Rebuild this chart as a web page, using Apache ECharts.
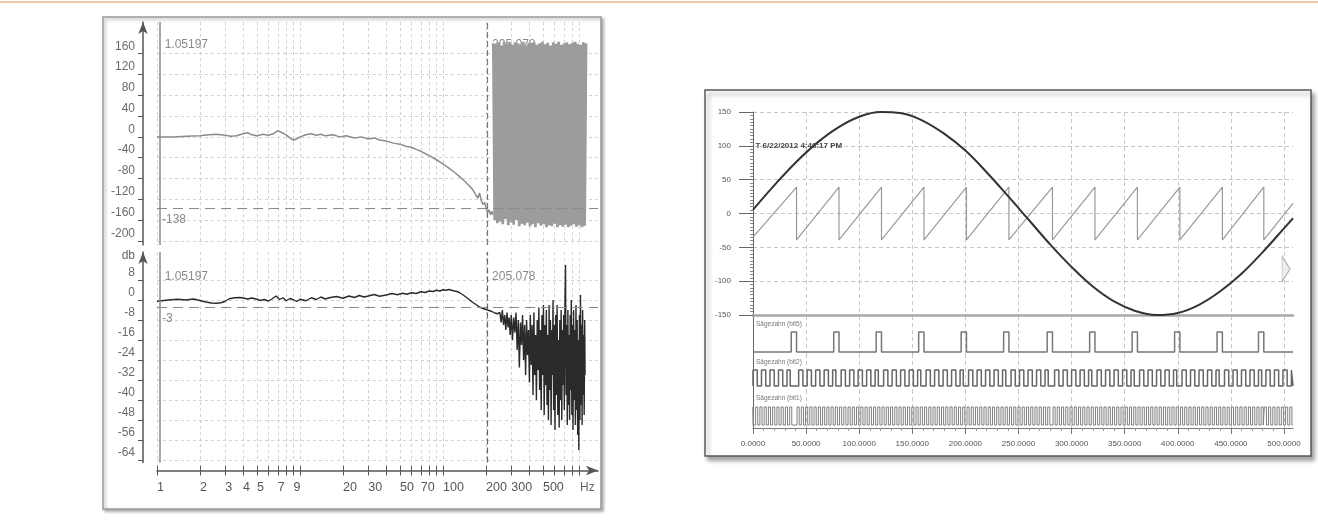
<!DOCTYPE html>
<html><head><meta charset="utf-8">
<script src="https://cdn.jsdelivr.net/npm/echarts@6/dist/echarts.min.js"></script>
<style>html,body{margin:0;padding:0;background:#fff}#c{width:1318px;height:520px}</style>
</head><body><div id="c"></div>
<script>
// ================= LEFT CHART: frequency response (log frequency axis) =================
const fTicks  = [1,2,3,4,5,6,7,8,9,10,20,30,40,50,60,70,80,90,100,200,300,400,500,600,700,800,900];
const fLabels = [1,2,3,4,5,7,9,20,30,50,70,100,200,300,500];
const fAxisMax = 1213;
const topTicks = [-200,-160,-120,-80,-40,0,40,80,120,160];
const botTicks = [-64,-56,-48,-40,-32,-24,-16,-8,0,8];
const cursorA = 1.05197;
const cursorB = 205.078;
const topRef = -138;
const botRef = -3;

// upper panel: gray transfer curve
const topF  = [1,1.3,1.6,2,2.3,2.6,3,3.3,3.6,4,4.3,4.6,5,5.5,6,6.5,7,7.5,8,8.5,9,9.5,10,11,12,13,14,15,17,19,21,24,27,30,33,36,40,45,50,55,60,65,70,75,80,90,100,110,120,130,140,150,160,170,175,180,185,190,195,200,205,210,215,220,225];
const topDb = [0,0,1,2,4,5,3,1,2,6,8,4,2,5,3,6,12,8,4,-2,-6,-4,0,4,6,3,5,2,4,0,2,-2,0,-4,-2,-6,-8,-12,-14,-18,-20,-24,-28,-32,-36,-44,-52,-60,-68,-76,-84,-92,-100,-112,-118,-108,-122,-130,-126,-136,-146,-140,-150,-143,-150];
// upper panel: dense noise block above ~225 Hz
const topNoiseF  = [225,230,235,240,245,251,256,262,268,274,280,286,292,299,305,312,319,326,333,341,348,356,364,372,380,389,397,406,415,424,434,443,453,463,474,484,495,506,517,529,540,552,565,577,590,603,617,630,644,659,673,688,704,719,735,752,768,785,803,821,839,857,876,896,916,936,957,978,1000];
const topNoiseDb = [180,-160,178,-166,182,-163,176,-168,183,-158,179,-170,181,-164,177,-169,182,-160,180,-172,178,-167,183,-170,176,-165,181,-172,179,-168,182,-174,177,-166,180,-171,183,-168,178,-174,181,-170,176,-172,182,-167,179,-174,183,-170,177,-173,180,-169,182,-174,178,-171,181,-168,183,-173,179,-170,177,-174,182,-171,180];
// lower panel: dark curve (smooth part + noisy tail)
const botF  = [1,1.2,1.4,1.6,1.8,2,2.2,2.4,2.6,2.8,3,3.2,3.5,3.8,4,4.3,4.6,5,5.3,5.6,6,6.4,6.8,7.2,7.6,8,8.5,9,9.5,10,11,12,13,14,15,16,18,20,22,24,26,28,30,33,36,40,44,48,52,56,60,65,70,75,80,85,90,95,100,105,110,115,120,125,130,140,150,160,170,180,190,200,210,220,230,240,
  250,255,260,265,270,275,280,285,290,295,300,306,312,318,324,330,336,342,348,354,360,366,372,378,384,390,396,402,408,414,420,426,432,438,444,450,456,462,468,474,480,486,492,498,504,510,516,522,528,534,540,546,552,558,564,570,576,582,588,594,600,607,614,621,628,635,642,649,656,663,670,677,684,691,698,705,712,719,726,733,740,747,754,761,768,775,782,789,796,803,811,819,827,835,843,851,859,867,875,883,891,899,907,915,923,931,939,947,955,963,971,979,985];
const botDb = [-0.5,0,0.3,0,0.4,-0.2,-0.8,-1.2,-1.3,-1.1,-0.5,0.5,0.9,1,0.8,0.4,0.8,0.3,-0.2,0.2,-0.4,0.5,1.6,0.2,0.9,-0.3,0.6,0.1,-0.6,0.3,-0.3,0.9,0.2,1.2,0.4,0.9,1.4,0.7,1.6,1,1.8,1.2,1.6,2.2,1.5,2,2.6,2.1,2.7,2.3,2.9,2.6,3.3,3,3.6,3.4,3.9,3.6,4.1,3.9,4.2,3.9,3.6,3.4,3,1.8,0.5,-0.8,-1.8,-2.8,-3.4,-3.8,-4.2,-4.6,-5.2,-5.5,
  -5,-9,-4,-10,-6,-12,-5,-11,-7,-14,-6,-16,-7,-13,-5,-20,-8,-27,-9,-18,-6,-24,-10,-30,-8,-22,-12,-33,-6,-26,-10,-38,-5,-30,-14,-40,-8,-28,-3,-36,-12,-44,-6,-30,-2,-46,-10,-34,-4,-42,-14,-48,-2,-36,-8,-50,-12,-30,0,-44,-10,-52,-6,-38,-2,-46,-16,-51,-8,-40,-4,-48,-12,-34,-6,-44,-2,14,-38,-10,-50,-4,-42,-14,-48,-6,-36,0,-46,-10,-52,-4,-40,-12,-50,-2,-44,-8,-54,-16,-60,-6,-48,2,-42,-10,-50,-4,-38,-14,-46,-8,-30];

// ================= RIGHT CHART: scope traces =================
const tXTicks = [0,50,100,150,200,250,300,350,400,450,500];
const tXMax = 508.5;
const sineX = [0,20,40,60,80,100,120,140,160,180,200,220,240,260,280,300,320,340,360,380,400,420,440,460,480,500,508.5];
const sineY = [5.5,41.5,75,104,127,143,150,148,137,118,93,61,26,-10,-46,-79,-108,-130,-144,-150,-147,-135,-115,-89,-57,-22,-7];
const sawDrops = [41,81,121,161,201,241,282,322,362,402,442,481];
const sawStart = -35, sawTop = 39, sawBottom = -39, sawEnd = 15;
const bit5Rise = [36,76,116,156,196,236,277,317,357,397,437,476];
const bit5Fall = [41,81,121,161,201,241,282,322,362,402,442,481];
const bitPeriodStarts = [-2,41,81,121,161,201,241,282,322,362,402,442,481];
const bit2Pattern = [[2,6],[10,14],[18,22],[26,30],[34,37]];
const bit1Pattern = [[0.5,2.5],[4.5,6.5],[8.5,10.5],[12.5,14.5],[16.5,18.5],[20.5,22.5],[24.5,26.5],[28.5,30.5],[32.5,34.5],[36.5,38.5]];
const timeStamp = 'T 6/22/2012 4:46:17 PM';
const bitNames = ['Sägezahn (bit5)','Sägezahn (bit2)','Sägezahn (bit1)'];

// ---------- helpers ----------
const lg = v => Math.log10(v);
const zip = (xs, ys, fx) => xs.slice(0, Math.min(xs.length, ys.length)).map((x, i) => [fx ? fx(x) : x, ys[i]]);
const FONT = 'Liberation Sans, Arial, sans-serif';

const sawData = [[0, sawStart]];
sawDrops.forEach(d => { sawData.push([d, sawTop], [d, sawBottom]); });
sawData.push([tXMax, sawEnd]);

function digital(intervals) {
  const pts = [[0, 0]];
  intervals.forEach(([a, b]) => {
    a = Math.max(0, a); b = Math.min(tXMax, b);
    if (b <= a) return;
    pts.push([a, 0], [a, 1], [b, 1], [b, 0]);
  });
  pts.push([tXMax, 0]);
  return pts;
}
const tile = pat => bitPeriodStarts.flatMap(s => pat.map(([a, b]) => [s + a, s + b]));
const bit5Data = digital(bit5Rise.map((r, i) => [r, bit5Fall[i]]));
const bit2Data = digital(tile(bit2Pattern));
const bit1Data = digital(tile(bit1Pattern));

const gridLineL = { show: true, lineStyle: { color: '#d2d2d2', type: [3, 3], width: 1 } };
const gridLineR = { show: true, lineStyle: { color: '#c6c6c6', type: [4, 3], width: 1 } };
const axisDark = { color: '#555', width: 1.5 };

const fTickVals = fTicks.map(lg);
const fLabelVals = fLabels.map(lg);

function leftY(gi, min, max, ticks, extra) {
  return Object.assign({
    gridIndex: gi, type: 'value', min, max, offset: 14,
    axisLine: { show: true, onZero: false, symbol: ['none', 'arrow'], symbolSize: [7, 12], lineStyle: axisDark },
    axisTick: { show: true, customValues: ticks, length: 5, lineStyle: { color: '#555' } },
    axisLabel: { customValues: ticks, color: '#6a6a6a', fontSize: 12, fontFamily: FONT, margin: 8, verticalAlign: 'bottom', lineHeight: 15 },
    splitLine: gridLineL
  }, extra || {});
}

const rX = (gi, extra) => Object.assign({
  gridIndex: gi, type: 'value', min: 0, max: tXMax, interval: 50,
  axisLine: { show: false, onZero: false }, axisTick: { show: false, customValues: tXTicks },
  axisLabel: { show: false, customValues: tXTicks }, splitLine: gridLineR
}, extra || {});

const rBitY = (gi, min, max, name) => ({
  gridIndex: gi, type: 'value', min, max,
  axisLine: { show: true, onZero: false, lineStyle: { color: '#666', width: 1 } },
  axisTick: { show: false }, axisLabel: { show: false }, splitLine: { show: false },
  name, nameLocation: 'end', nameGap: -8,
  nameTextStyle: { align: 'left', verticalAlign: 'middle', fontSize: 6.5, color: '#777', fontFamily: FONT, padding: [0, 0, 0, 3] }
});

const markLbl = { show: true, position: 'right', distance: 4, color: '#8a8a8a', fontSize: 12, fontFamily: FONT };

const option = {
  animation: false,
  backgroundColor: '#fff',
  textStyle: { fontFamily: FONT },
  graphic: [
    { type: 'line', shape: { x1: 0, y1: 2, x2: 1318, y2: 2 }, style: { stroke: '#f2c9a8', lineWidth: 2 }, z: -10 },
    { type: 'rect', shape: { x: 103, y: 17, width: 498, height: 492 }, z: -10,
      style: { fill: '#fff', stroke: '#9a9a9a', lineWidth: 1.5, shadowBlur: 3, shadowOffsetX: 2, shadowOffsetY: 2, shadowColor: 'rgba(0,0,0,0.3)' } },
    { type: 'rect', shape: { x: 705, y: 90, width: 606, height: 366 }, z: -10,
      style: { fill: '#fff', stroke: '#5a5a5a', lineWidth: 1.5, shadowBlur: 4, shadowOffsetX: 3, shadowOffsetY: 4, shadowColor: 'rgba(0,0,0,0.35)' } }
  ],
  grid: [
    { left: 157, top: 22, width: 441, height: 223 },
    { left: 157, top: 252, width: 441, height: 210.5 },
    { left: 753, top: 112, width: 540, height: 203 },
    { left: 753, top: 316, width: 540, height: 38 },
    { left: 753, top: 354, width: 540, height: 36 },
    { left: 753, top: 390, width: 540, height: 38 }
  ],
  xAxis: [
    { gridIndex: 0, type: 'value', min: 0, max: lg(fAxisMax),
      axisLine: { show: false, onZero: false }, axisTick: { show: false, customValues: fTickVals },
      axisLabel: { show: false, customValues: fLabelVals }, splitLine: gridLineL },
    { gridIndex: 1, type: 'value', min: 0, max: lg(fAxisMax), position: 'bottom', offset: 8,
      axisLine: { show: true, onZero: false, symbol: ['none', 'arrow'], symbolSize: [7, 12], lineStyle: axisDark },
      axisTick: { show: true, customValues: fTickVals, length: 5, lineStyle: { color: '#555' } },
      axisLabel: { show: true, customValues: fLabelVals, formatter: v => String(Math.round(Math.pow(10, v))),
        align: 'left', margin: 11, color: '#555', fontSize: 12.5, fontFamily: FONT },
      splitLine: gridLineL,
      name: 'Hz', nameLocation: 'end', nameGap: -18,
      nameTextStyle: { color: '#666', fontSize: 12, fontFamily: FONT, verticalAlign: 'top', padding: [11, 0, 0, 0] } },
    { gridIndex: 1, type: 'value', min: 0, max: lg(fAxisMax), position: 'bottom', offset: 8,
      axisLine: { show: false, onZero: false }, axisTick: { show: true, inside: true, customValues: fTickVals, length: 5, lineStyle: { color: '#555' } },
      axisLabel: { show: false }, splitLine: { show: false } },
    rX(2, { axisLine: { show: true, onZero: false, lineStyle: { color: '#a8a8a8', width: 2.5 } } }),
    rX(3), rX(4),
    rX(5, {
      axisLine: { show: true, onZero: false, lineStyle: { color: '#777', width: 1 } },
      axisTick: { show: true, customValues: tXTicks, length: 6, lineStyle: { color: '#777' } },
      minorTick: { show: true, splitNumber: 5, length: 3, lineStyle: { color: '#999' } },
      axisLabel: { show: true, customValues: tXTicks, formatter: v => v.toFixed(4), fontSize: 8, color: '#555', margin: 12, fontFamily: FONT }
    })
  ],
  yAxis: [
    leftY(0, -208, 221, topTicks),
    leftY(1, -65, 19.2, botTicks, {
      name: 'db', nameLocation: 'end', nameGap: -4,
      nameTextStyle: { align: 'right', verticalAlign: 'middle', color: '#666', fontSize: 12, fontFamily: FONT, padding: [0, 8, 0, 0] }
    }),
    { gridIndex: 2, type: 'value', min: -150, max: 150, interval: 50,
      axisLine: { show: true, onZero: false, lineStyle: { color: '#666', width: 1 } },
      axisTick: { show: true, length: 14, lineStyle: { color: '#666' } },
      minorTick: { show: true, splitNumber: 10, length: 3, lineStyle: { color: '#888' } },
      axisLabel: { fontSize: 8, color: '#555', margin: 22, fontFamily: FONT },
      splitLine: gridLineR },
    rBitY(3, -0.1, 1.8, bitNames[0]),
    rBitY(4, -0.25, 2.0, bitNames[1]),
    rBitY(5, -0.1667, 1.944, bitNames[2])
  ],
  series: [
    { name: 'upper', type: 'line', xAxisIndex: 0, yAxisIndex: 0, z: 2,
      data: zip(topF, topDb, lg), showSymbol: false, lineStyle: { color: '#8c8c8c', width: 1.5 },
      markLine: { symbol: ['none', 'none'], silent: true, animation: false, data: [
        { xAxis: lg(cursorA), lineStyle: { color: '#8a8a8a', width: 1.5, type: 'solid' }, label: { show: false } },
        { xAxis: lg(cursorB), lineStyle: { color: '#777', width: 1.2, type: [6, 3] }, label: { show: false } },
        { yAxis: topRef, lineStyle: { color: '#8a8a8a', width: 1.2, type: [10, 6] },
          label: { show: true, position: 'insideStartBottom', formatter: () => String(topRef), color: '#888', fontSize: 12, distance: 5 } }
      ] },
      markPoint: { z: 1, symbol: 'circle', symbolSize: 1, itemStyle: { color: 'rgba(0,0,0,0)' }, label: markLbl, data: [
        { coord: [lg(cursorA), 177], label: { formatter: () => String(cursorA) } },
        { coord: [lg(cursorB), 177], label: { formatter: () => String(cursorB) } }
      ] } },
    { name: 'upperNoise', type: 'line', xAxisIndex: 0, yAxisIndex: 0, z: 3,
      data: zip(topNoiseF, topNoiseDb, lg), showSymbol: false, lineStyle: { color: '#9c9c9c', width: 2.8, join: 'bevel' } },
    { name: 'lower', type: 'line', xAxisIndex: 1, yAxisIndex: 1, z: 3,
      data: zip(botF, botDb, lg), showSymbol: false, lineStyle: { color: '#2a2a2a', width: 1.4, join: 'bevel' },
      markLine: { symbol: ['none', 'none'], silent: true, animation: false, data: [
        { xAxis: lg(cursorA), lineStyle: { color: '#8a8a8a', width: 1.5, type: 'solid' }, label: { show: false } },
        { xAxis: lg(cursorB), lineStyle: { color: '#666', width: 1.2, type: [6, 3] }, label: { show: false } },
        { yAxis: botRef, lineStyle: { color: '#8a8a8a', width: 1.2, type: [10, 6] },
          label: { show: true, position: 'insideStartBottom', formatter: () => String(botRef), color: '#888', fontSize: 12, distance: 5 } }
      ] },
      markPoint: { symbol: 'circle', symbolSize: 1, itemStyle: { color: 'rgba(0,0,0,0)' }, label: markLbl, data: [
        { coord: [lg(cursorA), 9.2], label: { formatter: () => String(cursorA) } },
        { coord: [lg(cursorB), 9.2], label: { formatter: () => String(cursorB) } }
      ] } },
    { name: 'sine', type: 'line', xAxisIndex: 3, yAxisIndex: 2, z: 4, smooth: 0.4,
      data: zip(sineX, sineY), showSymbol: false, lineStyle: { color: '#333', width: 2 },
      markPoint: { symbol: 'circle', symbolSize: 1, itemStyle: { color: 'rgba(0,0,0,0)' }, data: [
        { coord: [0, 100], label: { show: true, position: 'right', distance: 2, formatter: timeStamp, fontSize: 8, fontWeight: 'bold', color: '#444', fontFamily: FONT } }
      ] } },
    { name: 'saw', type: 'line', xAxisIndex: 3, yAxisIndex: 2, z: 3,
      data: sawData, showSymbol: false, lineStyle: { color: '#999', width: 1.2 },
      markPoint: { data: [
        { coord: [502, -82], symbol: 'triangle', symbolSize: [25, 8], symbolRotate: -90,
          itemStyle: { color: '#eeeeee', borderColor: '#aaa', borderWidth: 1 }, label: { show: false } }
      ] } },
    { name: 'bit5', type: 'line', xAxisIndex: 4, yAxisIndex: 3, data: bit5Data, showSymbol: false, lineStyle: { color: '#777', width: 1.5 } },
    { name: 'bit2', type: 'line', xAxisIndex: 5, yAxisIndex: 4, data: bit2Data, showSymbol: false, lineStyle: { color: '#666', width: 1.5 } },
    { name: 'bit1', type: 'line', xAxisIndex: 6, yAxisIndex: 5, data: bit1Data, showSymbol: false, lineStyle: { color: '#808080', width: 1 } }
  ]
};

const chart = echarts.init(document.getElementById('c'), null, { renderer: 'canvas', width: 1318, height: 520 });
chart.setOption(option);
</script>
</body></html>
